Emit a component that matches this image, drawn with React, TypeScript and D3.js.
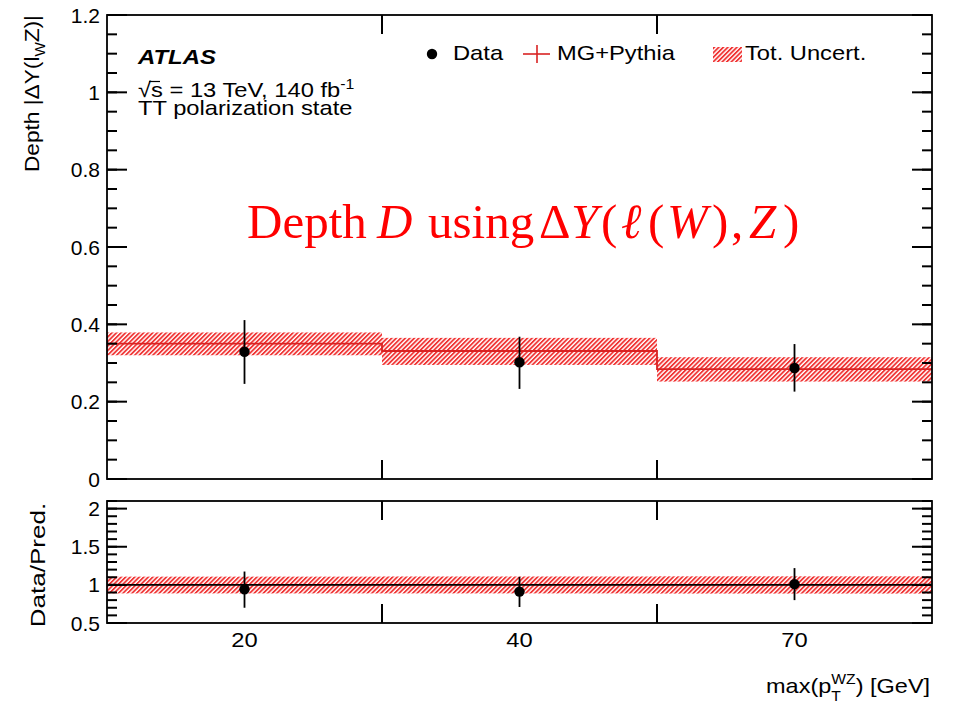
import React, { useRef, useEffect } from 'react';
import * as d3 from 'd3';

// bins of max(pT^WZ), drawn as equal-width bins
const binLabels = ['20', '40', '70'];
// MG+Pythia prediction and its total uncertainty band
const predValues = [0.35, 0.331, 0.284];
const predLow = [0.32, 0.295, 0.252];
const predHigh = [0.379, 0.365, 0.315];
// data points with error bars
const dataValues = [0.329, 0.302, 0.287];
const dataLow = [0.246, 0.233, 0.226];
const dataHigh = [0.411, 0.368, 0.349];
// ratio panel
const ratioValues = [0.943, 0.912, 1.01];
const ratioLow = [0.70, 0.71, 0.80];
const ratioHigh = [1.175, 1.105, 1.22];
const ratioBandLow = [0.888, 0.888, 0.886];
const ratioBandHigh = [1.108, 1.11, 1.112];

const W = 961;
const H = 705;
const FONT = '"Liberation Sans", Arial, Helvetica, sans-serif';
const SERIF = '"Liberation Serif", "DejaVu Serif", serif';
const RED = '#d92222';
const HATCH = '#f03535';

const Chart = () => {
    const ref = useRef<SVGSVGElement>(null);

    useEffect(() => {
        const svg = d3.select(ref.current);
        svg.selectAll('*').remove();

        const left = 107, right = 932;
        const x = d3.scaleLinear().domain([0, binLabels.length]).range([left, right]);
        const y = d3.scaleLinear().domain([0, 1.2]).range([479, 15]);
        const yr = d3.scaleLinear().domain([0.5, 2.1]).range([623, 501]);

        // text drawn a bit wider, like the ROOT rendering
        const stext = (tx: number, ty: number, sx: number, rot = 0) =>
            svg.append('text')
                .attr('transform', `translate(${tx},${ty}) rotate(${rot}) scale(${sx},1)`)
                .attr('font-family', FONT).attr('font-size', 21);

        // hatch pattern
        const defs = svg.append('defs');
        const pat = defs.append('pattern')
            .attr('id', 'hatch')
            .attr('patternUnits', 'userSpaceOnUse')
            .attr('width', 3.2).attr('height', 10)
            .attr('patternTransform', 'rotate(45)');
        pat.append('rect').attr('x', 0).attr('y', 0).attr('width', 1.8).attr('height', 10)
            .attr('fill', HATCH);

        const bins = d3.range(binLabels.length);

        // ---------- main panel ----------
        const main = svg.append('g');
        main.selectAll('.band').data(bins).enter().append('rect')
            .attr('x', i => x(i)).attr('width', i => x(i + 1) - x(i))
            .attr('y', i => y(predHigh[i])).attr('height', i => y(predLow[i]) - y(predHigh[i]))
            .attr('fill', 'url(#hatch)');

        const step: [number, number][] = [];
        bins.forEach(i => { step.push([i, predValues[i]]); step.push([i + 1, predValues[i]]); });
        main.append('path')
            .attr('d', d3.line<[number, number]>().x(d => x(d[0])).y(d => y(d[1]))(step))
            .attr('fill', 'none').attr('stroke', RED).attr('stroke-width', 1.8);

        main.selectAll('.err').data(bins).enter().append('line')
            .attr('x1', i => x(i + 0.5)).attr('x2', i => x(i + 0.5))
            .attr('y1', i => y(dataLow[i])).attr('y2', i => y(dataHigh[i]))
            .attr('stroke', '#000').attr('stroke-width', 1.8);
        main.selectAll('.pt').data(bins).enter().append('circle')
            .attr('cx', i => x(i + 0.5)).attr('cy', i => y(dataValues[i])).attr('r', 5.2)
            .attr('fill', '#000');

        // frame + ticks
        const frame = (top: number, bottom: number) => {
            svg.append('rect').attr('x', left).attr('y', top).attr('width', right - left)
                .attr('height', bottom - top).attr('fill', 'none').attr('stroke', '#000').attr('stroke-width', 1.8);
            d3.range(1, binLabels.length).forEach(i => {
                svg.append('line').attr('x1', x(i)).attr('x2', x(i)).attr('y1', bottom).attr('y2', bottom - 19)
                    .attr('stroke', '#000').attr('stroke-width', 2);
                svg.append('line').attr('x1', x(i)).attr('x2', x(i)).attr('y1', top).attr('y2', top + 19)
                    .attr('stroke', '#000').attr('stroke-width', 2);
            });
        };
        const yTicks = (scale: d3.ScaleLinear<number, number>, major: number[], minor: number[], fmt: (v: number) => string) => {
            const g = svg.append('g');
            const tick = (v: number, len: number) => {
                g.append('line').attr('x1', left).attr('x2', left + len).attr('y1', scale(v)).attr('y2', scale(v))
                    .attr('stroke', '#000').attr('stroke-width', 2);
                g.append('line').attr('x1', right).attr('x2', right - len).attr('y1', scale(v)).attr('y2', scale(v))
                    .attr('stroke', '#000').attr('stroke-width', 2);
            };
            minor.forEach(v => tick(v, 10));
            major.forEach(v => tick(v, 20));
            g.selectAll('text').data(major).enter().append('text')
                .attr('x', 100).attr('y', v => scale(v) + 7.5)
                .attr('text-anchor', 'end').attr('font-family', FONT).attr('font-size', 21)
                .text(fmt);
        };

        frame(15, 479);
        yTicks(y, d3.range(0, 1.21, 0.2), d3.range(0, 1.21, 0.05), v => d3.format('~g')(+v.toFixed(2)));

        // ---------- ratio panel ----------
        const rp = svg.append('g');
        rp.selectAll('.band').data(bins).enter().append('rect')
            .attr('x', i => x(i)).attr('width', i => x(i + 1) - x(i))
            .attr('y', i => yr(ratioBandHigh[i])).attr('height', i => yr(ratioBandLow[i]) - yr(ratioBandHigh[i]))
            .attr('fill', 'url(#hatch)');
        rp.append('line').attr('x1', left).attr('x2', right).attr('y1', yr(1)).attr('y2', yr(1))
            .attr('stroke', '#000').attr('stroke-width', 1.6);
        rp.selectAll('.err').data(bins).enter().append('line')
            .attr('x1', i => x(i + 0.5)).attr('x2', i => x(i + 0.5))
            .attr('y1', i => yr(ratioLow[i])).attr('y2', i => yr(ratioHigh[i]))
            .attr('stroke', '#000').attr('stroke-width', 1.8);
        rp.selectAll('.pt').data(bins).enter().append('circle')
            .attr('cx', i => x(i + 0.5)).attr('cy', i => yr(ratioValues[i])).attr('r', 5.2)
            .attr('fill', '#000');

        frame(501, 623);
        yTicks(yr, [0.5, 1, 1.5, 2], d3.range(0.5, 2.11, 0.1), v => d3.format('~g')(+v.toFixed(2)));

        // x labels
        bins.forEach(i => {
            stext(x(i + 0.5), 647, 1.13).attr('text-anchor', 'middle').text(binLabels[i]);
        });

        // x title
        const xsx = 1.12;
        const xt = stext(766, 693, xsx);
        const xtA = xt.append('tspan').text('max(p');
        xt.append('tspan').attr('font-size', 14).attr('dy', -9).text('WZ');
        xt.append('tspan').attr('dy', 9).text(') [GeV]');
        const pw = (xtA.node() as SVGTextContentElement).getComputedTextLength();
        stext(766 + pw * xsx, 701, xsx).attr('font-size', 14).text('T');

        // y titles
        const yt = stext(39, 15, 1.08, -90).attr('text-anchor', 'end');
        yt.append('tspan').text('Depth |ΔY(l');
        yt.append('tspan').attr('font-size', 14).attr('dy', 6).text('W');
        yt.append('tspan').attr('dy', -6).text('Z)|');
        stext(45, 565, 1.24, -90).attr('text-anchor', 'middle').text('Data/Pred.');

        // ATLAS labels
        stext(138, 64, 1.14).attr('font-weight', 'bold').attr('font-style', 'italic').text('ATLAS');
        const en = stext(138, 96.5, 1.13);
        en.append('tspan').text('√s = 13 TeV, 140 fb');
        en.append('tspan').attr('font-size', 14).attr('dy', -8).text('-1');
        svg.append('line').attr('x1', 149).attr('x2', 160).attr('y1', 81.5).attr('y2', 81.5)
            .attr('stroke', '#000').attr('stroke-width', 1.2);
        stext(138, 115, 1.13).text('TT polarization state');

        // legend
        svg.append('circle').attr('cx', 432).attr('cy', 54).attr('r', 5.2).attr('fill', '#000');
        stext(453, 60, 1.13).text('Data');
        svg.append('line').attr('x1', 523).attr('x2', 550).attr('y1', 54).attr('y2', 54).attr('stroke', RED).attr('stroke-width', 1.6);
        svg.append('line').attr('x1', 537).attr('x2', 537).attr('y1', 45).attr('y2', 63).attr('stroke', RED).attr('stroke-width', 1.6);
        stext(557, 60, 1.13).text('MG+Pythia');
        svg.append('rect').attr('x', 713).attr('y', 47).attr('width', 29).attr('height', 15).attr('fill', 'url(#hatch)');
        stext(745, 60, 1.13).text('Tot. Uncert.');

        // red annotation
        const an = svg.append('text').attr('y', 238)
            .attr('font-family', SERIF).attr('font-size', 49).attr('fill', '#ff0000');
        const parts: [string, number, boolean][] = [
            ['Depth', 247, false], ['D', 377, true], ['using', 428, false], ['Δ', 539, false],
            ['Y', 571, true], ['(', 601, false], ['ℓ', 621, true], ['(', 648, false],
            ['W', 667, true], [')', 712, false], [',', 731, false], ['Z', 749, true], [')', 783, false],
        ];
        parts.forEach(([t, px, it]) => {
            an.append('tspan').attr('x', px).attr('font-style', it ? 'italic' : 'normal').text(t);
        });
    }, []);

    return <svg ref={ref} width={W} height={H} style={{ position: 'absolute', left: 0, top: 0, background: '#fff' }}></svg>;
};

export default function App() {
    return <Chart />;
}
